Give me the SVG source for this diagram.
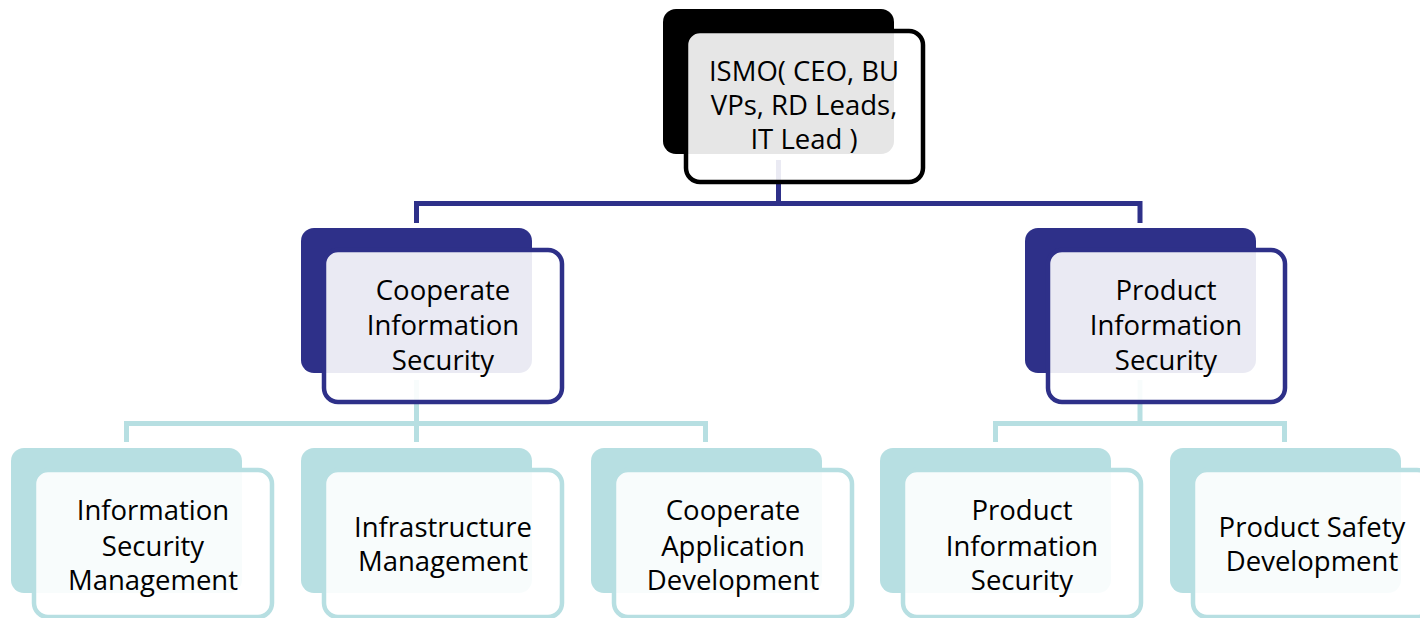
<svg xmlns="http://www.w3.org/2000/svg" width="1420" height="618" viewBox="0 0 1420 618">
  <style>
    .bg-top { fill: #000000; }
    .bg-mid { fill: #2E3089; }
    .bg-low { fill: #B7DFE2; }
    .face { fill: #FFFFFF; fill-opacity: 0.9; stroke-width: 4.5; }
    .face-top { stroke: #000000; }
    .face-mid { stroke: #2E3089; }
    .face-low { stroke: #B7DFE2; }
    .lbl { font-family: "Open Sans", "Liberation Sans", sans-serif; font-size: 27.5px; fill: #000000; text-anchor: middle; }
    .link-mid { fill: none; stroke: #2E3089; stroke-width: 5; stroke-linejoin: miter; }
    .link-low { fill: none; stroke: #B7DFE2; stroke-width: 5; stroke-linejoin: miter; }
  </style>

  <!-- connectors sit underneath the node faces -->
  <g id="connectors">
    <path class="link-mid" d="M778.5 160 V203.5 M416.5 223 V203.5 H1140 V223"/>
    <path class="link-low" d="M416.5 380 V423.5 M126.5 442 V423.5 H705.5 V442 M416.5 423.5 V442"/>
    <path class="link-low" d="M1140 380 V423.5 M995.5 442 V423.5 H1284.5 V442"/>
  </g>

  <g id="ismo">
    <rect class="bg-top" x="663" y="9" width="231" height="145" rx="13"/>
    <rect class="face face-top" x="686" y="31" width="237" height="151" rx="14"/>
    <text class="lbl" x="804" y="81">ISMO( CEO, BU</text>
    <text class="lbl" x="804" y="115">VPs, RD Leads,</text>
    <text class="lbl" x="804" y="149">IT Lead )</text>
  </g>

  <g id="cooperate-infosec">
    <rect class="bg-mid" x="301" y="228" width="231" height="145" rx="13"/>
    <rect class="face face-mid" x="324" y="250" width="238" height="152" rx="14"/>
    <text class="lbl" x="443" y="300">Cooperate</text>
    <text class="lbl" x="443" y="335">Information</text>
    <text class="lbl" x="443" y="370">Security</text>
  </g>

  <g id="product-infosec">
    <rect class="bg-mid" x="1025" y="228" width="231" height="145" rx="13"/>
    <rect class="face face-mid" x="1048" y="250" width="237" height="152" rx="14"/>
    <text class="lbl" x="1166" y="300">Product</text>
    <text class="lbl" x="1166" y="335">Information</text>
    <text class="lbl" x="1166" y="370">Security</text>
  </g>

  <g id="infosec-management">
    <rect class="bg-low" x="11" y="448" width="231" height="145" rx="13"/>
    <rect class="face face-low" x="34" y="470" width="238" height="147" rx="14"/>
    <text class="lbl" x="153" y="520">Information</text>
    <text class="lbl" x="153" y="555.5">Security</text>
    <text class="lbl" x="153" y="590">Management</text>
  </g>

  <g id="infrastructure-management">
    <rect class="bg-low" x="301" y="448" width="231" height="145" rx="13"/>
    <rect class="face face-low" x="324" y="470" width="238" height="147" rx="14"/>
    <text class="lbl" x="443" y="537">Infrastructure</text>
    <text class="lbl" x="443" y="571">Management</text>
  </g>

  <g id="cooperate-appdev">
    <rect class="bg-low" x="591" y="448" width="231" height="145" rx="13"/>
    <rect class="face face-low" x="614" y="470" width="238" height="147" rx="14"/>
    <text class="lbl" x="733" y="520">Cooperate</text>
    <text class="lbl" x="733" y="555.5">Application</text>
    <text class="lbl" x="733" y="590">Development</text>
  </g>

  <g id="product-infosec-team">
    <rect class="bg-low" x="880" y="448" width="231" height="145" rx="13"/>
    <rect class="face face-low" x="903" y="470" width="238" height="147" rx="14"/>
    <text class="lbl" x="1022" y="520">Product</text>
    <text class="lbl" x="1022" y="555.5">Information</text>
    <text class="lbl" x="1022" y="590">Security</text>
  </g>

  <g id="product-safety">
    <rect class="bg-low" x="1170" y="448" width="231" height="145" rx="13"/>
    <rect class="face face-low" x="1193" y="470" width="238" height="147" rx="14"/>
    <text class="lbl" x="1312" y="537">Product Safety</text>
    <text class="lbl" x="1312" y="571">Development</text>
  </g>
</svg>
